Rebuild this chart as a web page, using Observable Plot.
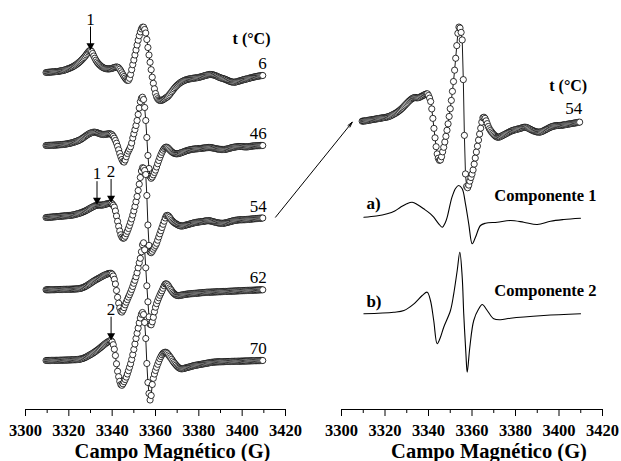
<!DOCTYPE html>
<html><head><meta charset="utf-8">
<script src="https://cdn.jsdelivr.net/npm/d3@7"></script>
<script src="https://cdn.jsdelivr.net/npm/@observablehq/plot@0.6"></script>
<style>
body{margin:0;background:#fff;}
#chart{display:flex;width:621px;height:461px;position:relative;}
#chart svg{overflow:visible;flex:none;}
</style></head><body><div id="chart"></div>
<script>
// sampling grid of the spectra (G)
const fieldStart = 3309.5, fieldStep = 0.5;
const temps = [6, 46, 54, 62, 70];
// EPR first-derivative spectra (arbitrary units, left-panel scale)
const s6 = [0,0.1,0.2,0.3,0.4,0.5,0.6,0.7,0.8,0.9,1.0,1.1,1.3,1.5,1.7,1.9,2.1,2.4,2.8,3.2,
3.6,4.0,4.4,4.9,5.4,6.0,6.6,7.3,8.0,8.8,9.7,10.6,11.6,12.7,13.8,15.0,16.3,17.7,19.2,20.6,
21.7,22.0,21.0,19.0,16.5,14.3,12.3,10.6,9.2,8.0,7.0,6.0,5.3,4.7,4.2,3.9,3.7,3.6,3.6,3.7,
3.9,4.2,4.6,5.0,5.3,5.5,5.3,4.6,3.3,1.6,-0.3,-2.2,-4.0,-5.6,-7.0,-7.9,-7.8,-5.8,-2.0,2.8,
7.8,12.5,17.5,22.5,27.5,32.3,36.8,40.6,43.6,45.3,45.3,43.0,39.5,33.0,25.0,17.5,10.2,2.8,-4.7,-10.8,
-16.3,-21.0,-24.2,-26.2,-27.4,-28.0,-28.0,-27.7,-27.2,-26.5,-25.8,-25.0,-24.4,-23.3,-22.0,-20.6,-19.2,-17.8,-16.4,-15.1,
-13.9,-12.8,-11.8,-10.9,-10.1,-9.4,-8.8,-8.3,-7.8,-7.4,-7.0,-6.7,-6.5,-6.3,-6.1,-5.9,-5.7,-5.6,-5.4,-5.3,
-5.1,-4.9,-4.6,-4.3,-4.0,-3.7,-3.3,-3.0,-2.7,-2.4,-2.2,-2.0,-2.0,-2.1,-2.3,-2.6,-3.0,-3.4,-3.9,-4.4,
-4.9,-5.3,-5.7,-6.0,-6.3,-6.7,-7.1,-7.6,-8.1,-8.6,-9.0,-9.3,-9.6,-9.7,-9.7,-9.5,-9.2,-8.9,-8.6,-8.3,
-8.0,-7.6,-7.3,-7.0,-6.7,-6.5,-6.2,-5.9,-5.6,-5.3,-5.0,-4.7,-4.5,-4.3,-4.0,-3.8,-3.6,-3.4,-3.2,-3.1,
-3.0];
const s46 = [0,0,0.1,0.1,0.2,0.2,0.3,0.3,0.4,0.5,0.5,0.6,0.7,0.8,0.9,1.0,1.1,1.2,1.4,1.6,
1.8,2.0,2.2,2.5,2.8,3.1,3.4,3.8,4.2,4.6,5.0,5.5,6.1,6.8,7.5,8.3,9.1,9.9,10.6,11.3,
11.9,12.4,12.8,13.1,13.3,13.3,13.1,12.8,12.4,12.0,11.6,11.3,11.1,11.0,11.1,11.2,11.4,11.6,11.7,11.7,
11.4,10.6,9.2,7.3,5.0,2.3,-0.8,-4.3,-8.0,-11.2,-14.0,-16.0,-16.6,-14.5,-11.2,-8.0,-5.6,-3.5,-1.2,2.5,
7.5,11.7,15.8,20.0,25.0,31.0,37.5,43.8,47.3,48.3,46.0,38.0,25.0,8.0,-10.0,-23.0,-31.0,-32.8,-31.5,-29.3,
-27.0,-24.6,-21.5,-18.2,-15.0,-12.0,-9.2,-6.8,-4.7,-3.0,-1.9,-1.6,-2.0,-3.0,-4.2,-5.3,-6.3,-7.1,-7.7,-8.1,
-8.3,-8.3,-8.1,-7.8,-7.5,-7.1,-6.7,-6.3,-5.9,-5.5,-5.1,-4.8,-4.5,-4.2,-4.0,-3.8,-3.6,-3.5,-3.4,-3.3,
-3.2,-3.1,-3.0,-2.9,-2.7,-2.6,-2.5,-2.3,-2.2,-2.1,-2.0,-2.0,-2.1,-2.3,-2.5,-2.7,-3.0,-3.2,-3.4,-3.6,
-3.8,-3.9,-4.0,-4.0,-4.0,-3.9,-3.7,-3.5,-3.2,-2.9,-2.6,-2.3,-2.0,-1.8,-1.6,-1.4,-1.2,-1.1,-1.0,-1.0,
-1.0,-1.1,-1.2,-1.3,-1.4,-1.4,-1.3,-1.2,-1.0,-0.8,-0.6,-0.5,-0.4,-0.3,-0.2,-0.2,-0.1,-0.1,0,0,
0];
const s54 = [0,0.1,0.1,0.2,0.3,0.4,0.5,0.6,0.7,0.8,0.9,1.0,1.1,1.2,1.3,1.4,1.5,1.6,1.7,1.8,
1.9,2.0,2.1,2.2,2.4,2.6,2.8,3.1,3.4,3.7,4.0,4.3,4.7,5.1,5.5,6.0,6.5,7.0,7.6,8.2,
8.8,9.4,10.0,10.6,11.1,11.6,12.0,12.3,12.5,12.5,12.4,12.4,12.5,12.7,13.0,13.3,13.6,13.9,14.2,14.4,
14.5,13.6,12.2,10.4,6.5,1.5,-3.8,-8.8,-13.5,-17.3,-19.6,-20.7,-20.5,-18.8,-16.2,-13.8,-11.0,-8.0,-4.8,-1.4,
2.5,6.6,11.0,15.8,21.0,27.0,33.3,40.0,46.5,49.8,49.3,47.0,43.0,22.0,-7.5,-27.9,-34.5,-35.2,-33.8,-31.7,
-29.8,-28.0,-25.8,-22.7,-19.5,-16.3,-13.2,-10.0,-6.8,-3.7,-0.5,1.8,2.1,1.5,0.2,-1.3,-2.8,-4.0,-4.9,-5.7,
-6.4,-7.0,-7.6,-8.1,-8.4,-8.5,-8.4,-8.2,-7.9,-7.6,-7.3,-7.0,-6.7,-6.4,-6.1,-5.8,-5.5,-5.2,-5.0,-4.8,
-4.6,-4.5,-4.3,-4.2,-4.0,-3.9,-3.7,-3.5,-3.3,-3.2,-3.2,-3.3,-3.5,-3.8,-4.1,-4.4,-4.7,-5.0,-5.2,-5.4,
-5.6,-5.7,-5.8,-5.8,-5.7,-5.5,-5.3,-5.0,-4.7,-4.4,-4.1,-3.8,-3.5,-3.2,-3.0,-2.8,-2.6,-2.5,-2.4,-2.3,
-2.3,-2.3,-2.2,-2.2,-2.1,-2.0,-1.9,-1.8,-1.7,-1.6,-1.5,-1.4,-1.3,-1.2,-1.1,-1.0,-0.9,-0.8,-0.7,-0.6,
-0.5];
const s62 = [0,0,0,0,0,0.1,0.1,0.1,0.1,0.2,0.2,0.2,0.2,0.3,0.3,0.3,0.4,0.4,0.4,0.5,
0.5,0.5,0.6,0.6,0.7,0.7,0.8,0.8,0.9,1.0,1.1,1.3,1.5,1.8,2.2,2.7,3.2,3.8,4.4,5.1,
5.8,6.5,7.3,8.0,8.7,9.4,10.0,10.6,11.2,11.8,12.4,13.0,13.6,14.2,14.7,15.2,15.6,16.0,16.3,16.5,
16.5,15.6,13.8,10.5,5.8,-0.7,-7.5,-13.4,-18.2,-21.5,-22.3,-20.4,-17.8,-15.0,-12.4,-9.8,-7.3,-4.9,-2.4,0.3,
3.3,6.5,9.5,13.0,17.0,22.0,27.0,31.5,38.0,45.0,47.0,40.0,22.0,4.0,-12.0,-27.0,-34.5,-35.0,-32.0,-27.5,
-22.0,-17.4,-13.8,-10.8,-8.0,-5.5,-3.2,-1.0,1.5,4.0,5.8,6.0,5.2,3.8,2.0,0.5,-1.0,-2.5,-3.6,-4.6,
-5.3,-5.7,-5.8,-5.7,-5.5,-5.3,-5.1,-4.9,-4.7,-4.5,-4.3,-4.2,-4.1,-4.0,-3.9,-3.8,-3.7,-3.6,-3.5,-3.4,
-3.3,-3.2,-3.1,-3.0,-2.9,-2.8,-2.7,-2.6,-2.5,-2.4,-2.4,-2.4,-2.3,-2.3,-2.2,-2.2,-2.1,-2.1,-2.0,-2.0,
-1.9,-1.9,-1.8,-1.8,-1.7,-1.7,-1.6,-1.6,-1.5,-1.5,-1.4,-1.4,-1.3,-1.3,-1.2,-1.2,-1.1,-1.1,-1.0,-1.0,
-0.9,-0.9,-0.8,-0.8,-0.7,-0.7,-0.6,-0.6,-0.5,-0.5,-0.4,-0.4,-0.3,-0.3,-0.2,-0.2,-0.1,-0.1,0,0,
0];
const s70 = [0,0,0,0,0,0.1,0.1,0.1,0.1,0.2,0.2,0.2,0.2,0.3,0.3,0.3,0.4,0.4,0.4,0.5,
0.5,0.5,0.6,0.6,0.7,0.7,0.8,0.8,0.9,1.0,1.1,1.3,1.5,1.8,2.1,2.5,3.0,3.5,4.1,4.7,
5.3,5.9,6.5,7.2,7.9,8.6,9.4,10.2,11.0,11.8,12.7,13.6,14.5,15.4,16.3,17.1,17.9,18.6,19.3,19.8,
19.8,18.6,15.8,11.3,5.0,-3.3,-10.8,-16.2,-20.8,-24.0,-24.8,-23.3,-21.2,-19.0,-16.6,-13.5,-10.2,-6.8,-3.3,1.0,
5.8,11.0,16.5,22.0,27.2,32.4,37.6,42.5,46.2,48.0,46.0,38.0,22.0,-3.0,-22.0,-33.0,-39.5,-35.0,-24.0,-17.8,
-13.5,-10.0,-6.8,-3.8,-1.0,1.8,4.0,5.8,7.2,8.0,8.3,8.0,7.0,5.6,4.2,2.8,1.2,-0.5,-2.0,-3.3,
-4.6,-5.8,-6.8,-7.6,-8.1,-8.3,-8.2,-8.0,-7.7,-7.4,-7.1,-6.8,-6.5,-6.2,-5.9,-5.6,-5.3,-5.0,-4.8,-4.6,
-4.4,-4.2,-4.0,-3.8,-3.6,-3.4,-3.2,-3.0,-2.8,-2.6,-2.4,-2.2,-2.0,-1.8,-1.7,-1.6,-1.5,-1.4,-1.4,-1.3,
-1.3,-1.3,-1.2,-1.2,-1.2,-1.1,-1.1,-1.1,-1.0,-1.0,-1.0,-0.9,-0.9,-0.9,-0.8,-0.8,-0.8,-0.7,-0.7,-0.7,
-0.6,-0.6,-0.6,-0.5,-0.5,-0.5,-0.4,-0.4,-0.4,-0.3,-0.3,-0.3,-0.2,-0.2,-0.2,-0.1,-0.1,-0.1,0,0,
0];
const spectra = [s6, s46, s54, s62, s70];
// vertical stacking offsets of the spectra (left panel)
const stackBase = [337, 264, 192, 119.7, 49];
// right panel: enlarged 54 °C spectrum and its two simulated components
const zoomTemp = 54, zoomGain = 1.89, zoomBase = 288.3;
const comp1Field = [3310.3,3316,3321,3324.5,3327.1,3330,3332.5,3335,3337.8,3340.9,3342.4,3344.7,3346.3,3347.8,3348.6,3350.8,3352.5,3353.9,3355.5,3357,3358.5,3360.1,3361.6,3363.9,3366.2,3371.6,3377.7,3383.8,3390,3396.1,3402.2,3409.9];
const comp1Value = [0,1.2,3.4,6.2,10,13.5,15,12.5,8.4,3.4,0,-6.6,-10,-5,0,20,29,31.7,28.4,13.4,-6.6,-26.6,-20,-8.3,-6,-5,-3.3,-5,-7.3,-4,-2.3,-1];
const comp2Field = [3310.3,3324,3328.7,3333.3,3337.1,3339.4,3340.9,3342.4,3344,3345.5,3347,3350.1,3351.6,3353.2,3354.4,3355.5,3356.2,3357.2,3357.8,3359,3360.8,3363.1,3364.7,3367,3370,3373.1,3377.7,3393,3409.9];
const comp2Value = [0,1.6,3.3,10,18.3,21.6,13.3,-6.7,-30,-23.4,-13.4,3.3,20,43.3,61.6,36.6,0,-40,-58.4,-33.4,-6.7,5,9.3,3.3,-5,-6,-4.4,-1.7,0];
const compBase = [192.3, 95.7];
const compNames = ["Componente 1", "Componente 2"];
const compTags = ["a)", "b)"];
// axis
const majorTicks = [3300,3320,3340,3360,3380,3400,3420];
const minorTicks = [3310,3330,3350,3370,3390,3410];
const xTitle = "Campo Magnético (G)";
const tHeader = "t (°C)";
// peak markers
const annotLabels = ["1", "1", "2", "2"];
const annotTemps = [6, 54, 54, 70];
const annotFields = [3330, 3333, 3339.5, 3339.5];
// arrow from the 54 °C trace to the enlarged panel (left-panel data units)
const linkFrom = {G: 3415.4, v: 192.3};
const linkTo = {G: 3450.8, v: 287.3};

const FONT = "'Liberation Serif','Times New Roman',serif";
const rows = (vals, base, gain = 1) => vals.map((v, i) => ({G: fieldStart + i * fieldStep, v: base + gain * v}));

function axisMarks() {
  return [
    Plot.ruleY([0], {stroke: "black", strokeWidth: 1}),
    Plot.axisX({ticks: majorTicks, tickSize: 7, tickFormat: () => "", label: null, stroke: "black"}),
    Plot.axisX({ticks: minorTicks, tickSize: 4, tickFormat: () => "", label: null, stroke: "black"}),
    Plot.text(majorTicks, {x: d => d, frameAnchor: "bottom", dy: 26, text: d => String(d), lineAnchor: "bottom", fontSize: 16.5, fontWeight: "bold", fill: "black"}),
    Plot.text([xTitle], {frameAnchor: "bottom", dx: 17, dy: 48, lineAnchor: "bottom", fontSize: 20.5, fontWeight: "bold", fill: "black"})
  ];
}
function traceMarks(d) {
  return [
    Plot.line(d, {x: "G", y: "v", stroke: "black", strokeWidth: 0.9}),
    Plot.dot(d, {x: "G", y: "v", r: 3.1, fill: "white", stroke: "black", strokeWidth: 0.8})
  ];
}

// ---------- left panel ----------
const leftMarks = axisMarks();
temps.forEach((t, k) => leftMarks.push(...traceMarks(rows(spectra[k], stackBase[k]))));
const ends = temps.map((t, k) => ({t, G: fieldStart + (spectra[k].length - 1) * fieldStep, v: stackBase[k] + spectra[k][spectra[k].length - 1]}));
leftMarks.push(Plot.text(ends, {x: "G", y: "v", text: d => String(d.t), dx: 4, dy: -6.5, textAnchor: "end", lineAnchor: "bottom", fontSize: 17, fill: "black"}));
leftMarks.push(Plot.text([tHeader], {frameAnchor: "top-right", dx: -15, dy: 43.3, textAnchor: "end", lineAnchor: "bottom", fontSize: 16, fontWeight: "bold", fill: "black"}));
const annots = annotLabels.map((lab, j) => {
  const k = temps.indexOf(annotTemps[j]);
  const i = Math.round((annotFields[j] - fieldStart) / fieldStep);
  return {label: lab, G: annotFields[j], v: stackBase[k] + spectra[k][i]};
});
// marker arrows: thin shaft + filled head
leftMarks.push(Plot.link(annots, {x1: "G", x2: "G", y1: d => d.v + 24, y2: d => d.v + 6, stroke: "black", strokeWidth: 1}));
leftMarks.push(Plot.dot(annots, {x: "G", y: d => d.v + 5, symbol: "triangle", r: 3, rotate: 180, fill: "black", stroke: "none"}));
leftMarks.push(Plot.text(annots, {x: "G", y: d => d.v + 24, dy: -2, lineAnchor: "bottom", text: "label", fontSize: 17, fill: "black"}));
leftMarks.push(Plot.arrow([{a: linkFrom, b: linkTo}], {x1: d => d.a.G, y1: d => d.a.v, x2: d => d.b.G, y2: d => d.b.v, stroke: "black", strokeWidth: 1, headLength: 8, headAngle: 28}));

const common = {height: 461, marginTop: 0, marginBottom: 52,
  x: {domain: [3300, 3420], axis: null}, y: {domain: [0, 409], axis: null},
  style: {background: "transparent", overflow: "visible", fontFamily: FONT, color: "black"}};

const left = Plot.plot({...common, width: 310, marginLeft: 25, marginRight: 25, marks: leftMarks});

// ---------- right panel ----------
const rightMarks = axisMarks();
const kz = temps.indexOf(zoomTemp);
const zoomRows = rows(spectra[kz], zoomBase, zoomGain);
rightMarks.push(...traceMarks(zoomRows));
const zEnd = zoomRows[zoomRows.length - 1];
rightMarks.push(Plot.text([zEnd], {x: "G", y: "v", text: () => String(zoomTemp), dx: 2.5, dy: -8.3, textAnchor: "end", lineAnchor: "bottom", fontSize: 17, fill: "black"}));
rightMarks.push(Plot.text([tHeader], {frameAnchor: "top-right", dx: -15.3, dy: 90, textAnchor: "end", lineAnchor: "bottom", fontSize: 16, fontWeight: "bold", fill: "black"}));
[[comp1Field, comp1Value], [comp2Field, comp2Value]].forEach(([F, V], c) => {
  const d = F.map((g, i) => ({G: g, v: compBase[c] + V[i]}));
  rightMarks.push(Plot.line(d, {x: "G", y: "v", stroke: "black", strokeWidth: 1.1, curve: "catmull-rom"}));
  const first = d[0], last = d[d.length - 1];
  rightMarks.push(Plot.text([first], {x: "G", y: "v", text: () => compTags[c], dx: 2.5, dy: c === 0 ? -8.5 : -7, textAnchor: "start", lineAnchor: "bottom", fontSize: 17, fontWeight: "bold", fill: "black"}));
  rightMarks.push(Plot.text([last], {x: "G", y: "v", text: () => compNames[c], dx: 16, dy: c === 0 ? -17.5 : -18, textAnchor: "end", lineAnchor: "bottom", fontSize: 16.5, fontWeight: "bold", fill: "black"}));
});
const right = Plot.plot({...common, width: 311, marginLeft: 31, marginRight: 19, marks: rightMarks});

const chart = document.getElementById("chart");
chart.append(left, right);
</script></body></html>
